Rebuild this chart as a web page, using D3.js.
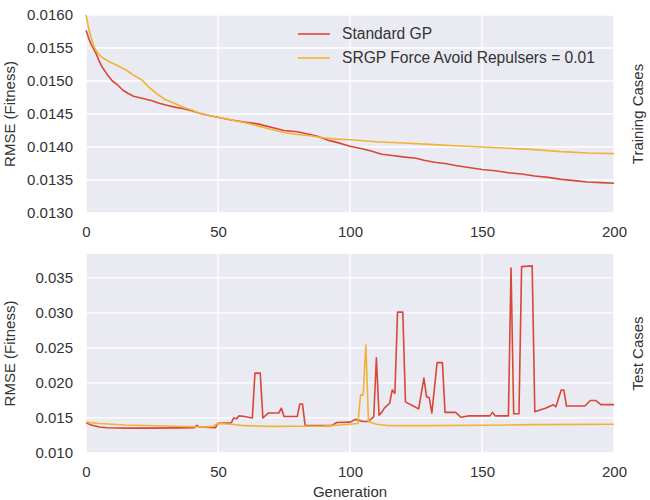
<!DOCTYPE html>
<html>
<head>
<meta charset="utf-8">
<script src="https://cdn.jsdelivr.net/npm/d3@7"></script>
<style>
  body { margin: 0; background: #fff; }
  svg text { font-family: "Liberation Sans", Arial, sans-serif; fill: #333; }
</style>
</head>
<body>
<div id="chart"></div>
<script>
// Training cases (top panel)
const trainGpGen = [0, 1, 2, 3, 4, 5, 6, 8, 10, 12, 14, 16, 18, 20, 22, 25, 28, 31, 34, 37, 40, 43, 46, 50,
    55, 60, 65, 68, 72, 75, 80, 85, 88, 92, 95, 100, 105, 108, 112, 116, 120, 125, 128, 132, 136, 140,
    145, 150, 155, 160, 165, 170, 175, 180, 185, 190, 195, 200];
const trainGp = [0.01577, 0.01565, 0.01555, 0.01548, 0.01540, 0.01530, 0.01522, 0.01510, 0.01500, 0.01494,
    0.01486, 0.01481, 0.01477, 0.01475, 0.01473, 0.01470, 0.01466, 0.01463, 0.01460, 0.01458, 0.01455,
    0.01451, 0.01448, 0.01445, 0.01441, 0.01438, 0.01435, 0.01432, 0.01428, 0.01425, 0.01423, 0.01419,
    0.01416, 0.01410, 0.01407, 0.01401, 0.01397, 0.01394, 0.01389, 0.01387, 0.01385, 0.01383, 0.01380,
    0.01377, 0.01375, 0.01372, 0.01369, 0.01366, 0.01364, 0.01361, 0.01359, 0.01356, 0.01354, 0.01351,
    0.01349, 0.01347, 0.01346, 0.01345];

const trainSrgpGen = [0, 1, 2, 3, 4, 5, 6, 8, 10, 12, 15, 18, 21, 24, 27, 30, 33, 37, 40, 43, 46, 50, 55, 60,
    65, 70, 75, 80, 85, 90, 95, 100, 110, 120, 130, 140, 150, 160, 170, 180, 190, 200];
const trainSrgp = [0.01600, 0.01580, 0.01565, 0.01552, 0.01545, 0.01540, 0.01536, 0.01531, 0.01527, 0.01523,
    0.01517, 0.01509, 0.01502, 0.01490, 0.01480, 0.01472, 0.01467, 0.01460, 0.01456, 0.01451, 0.01448,
    0.01445, 0.01441, 0.01437, 0.01432, 0.01427, 0.01422, 0.01419, 0.01417, 0.01414, 0.01412, 0.01411,
    0.01408, 0.01406, 0.01404, 0.01402, 0.01400, 0.01398, 0.01396, 0.01393, 0.01391, 0.01390];

// Test cases (bottom panel)
const testGpGen = [0, 2, 5, 8, 15, 25, 35, 41, 42, 43, 49, 50, 55, 56, 57, 58, 60, 63, 64, 66, 67, 69, 73, 74,
    75, 80, 81, 82, 83, 93, 95, 100, 102, 105, 107, 109, 110, 111, 112, 113, 115, 116, 117, 118, 120, 121,
    125, 126, 128, 129, 130, 131, 133, 135, 136, 140, 142, 145, 153, 154, 155, 160, 161, 162, 164, 165, 169,
    170, 174, 177, 178, 180, 181, 182, 189, 191, 193, 195, 200];
const testGp = [0.01430, 0.01400, 0.01370, 0.01360, 0.01355, 0.01355, 0.01358, 0.01362, 0.01395, 0.01370,
    0.01360, 0.01425, 0.01430, 0.01500, 0.01490, 0.01530, 0.01520, 0.01500, 0.02140, 0.02140, 0.01500,
    0.01570, 0.01570, 0.01640, 0.01520, 0.01520, 0.01700, 0.01700, 0.01390, 0.01390, 0.01435, 0.01440,
    0.01480, 0.01450, 0.01450, 0.01520, 0.02360, 0.01540, 0.01580, 0.01640, 0.01710, 0.01900, 0.01850,
    0.03010, 0.03010, 0.01730, 0.01650, 0.01630, 0.02070, 0.01800, 0.01790, 0.01570, 0.02290, 0.02290,
    0.01580, 0.01580, 0.01510, 0.01530, 0.01530, 0.01580, 0.01530, 0.01530, 0.03640, 0.01560, 0.01560,
    0.03660, 0.03670, 0.01590, 0.01640, 0.01690, 0.01660, 0.01900, 0.01900, 0.01670, 0.01670, 0.01750,
    0.01750, 0.01690, 0.01690];

const testSrgpGen = [0, 5, 15, 30, 45, 48, 50, 55, 60, 70, 90, 95, 100, 103, 104, 105, 106, 107, 110, 115,
    130, 150, 170, 200];
const testSrgp = [0.01440, 0.01420, 0.01400, 0.01385, 0.01372, 0.01380, 0.01420, 0.01410, 0.01390, 0.01380,
    0.01385, 0.01395, 0.01410, 0.01420, 0.01830, 0.01830, 0.02540, 0.01450, 0.01410, 0.01390, 0.01390,
    0.01395, 0.01405, 0.01410];

const seriesNames = ['Standard GP', 'SRGP Force Avoid Repulsers = 0.01'];
const seriesColors = ['#d9473a', '#f2b233'];

const xTicks = [0, 50, 100, 150, 200];
const trainTicks = [0.0130, 0.0135, 0.0140, 0.0145, 0.0150, 0.0155, 0.0160];
const testTicks = [0.010, 0.015, 0.020, 0.025, 0.030, 0.035];

const width = 650, height = 500;
const svg = d3.select('#chart').append('svg')
    .attr('width', width)
    .attr('height', height);

const left = 86, right = 614;

function drawPanel(opts) {
    const x = d3.scaleLinear().domain([0, 200]).range([left, right]);
    const y = d3.scaleLinear().domain(opts.yDomain).range([opts.bottom, opts.top]);

    const g = svg.append('g');

    g.append('rect')
        .attr('x', left)
        .attr('y', opts.top)
        .attr('width', right - left)
        .attr('height', opts.bottom - opts.top)
        .attr('fill', '#eaeaf2');

    // grid
    g.selectAll('.vgrid')
        .data(xTicks)
        .enter()
        .append('line')
        .attr('x1', d => x(d)).attr('x2', d => x(d))
        .attr('y1', opts.top).attr('y2', opts.bottom)
        .attr('stroke', '#fff')
        .attr('stroke-width', 1.3);

    g.selectAll('.hgrid')
        .data(opts.yTicks)
        .enter()
        .append('line')
        .attr('x1', left).attr('x2', right)
        .attr('y1', d => y(d)).attr('y2', d => y(d))
        .attr('stroke', '#fff')
        .attr('stroke-width', 1.3);

    // axes, text only (no domain lines / tick marks in this style)
    const xAxis = g.append('g')
        .attr('transform', `translate(0,${opts.bottom})`)
        .call(d3.axisBottom(x).tickValues(xTicks).tickSize(0).tickPadding(13));
    const yAxis = g.append('g')
        .attr('transform', `translate(${left},0)`)
        .call(d3.axisLeft(y).tickValues(opts.yTicks).tickSize(0).tickPadding(13)
            .tickFormat(d3.format(opts.fmt)));
    [xAxis, yAxis].forEach(a => {
        a.select('.domain').remove();
        a.selectAll('text')
            .style('font-size', '15px')
            .style('font-family', '"Liberation Sans", Arial, sans-serif')
            .attr('fill', '#333');
    });

    const line = d3.line()
        .x(d => x(d[0]))
        .y(d => y(d[1]));

    opts.series.forEach((s, i) => {
        g.append('path')
            .datum(d3.zip(s.gen, s.val))
            .attr('d', line)
            .attr('fill', 'none')
            .attr('stroke', seriesColors[i])
            .attr('stroke-width', 1.6)
            .attr('stroke-linejoin', 'round');
    });

    const mid = (opts.top + opts.bottom) / 2;
    g.append('text')
        .attr('transform', `translate(15,${mid}) rotate(-90)`)
        .attr('text-anchor', 'middle')
        .style('font-size', '15px')
        .text('RMSE (Fitness)');

    g.append('text')
        .attr('transform', `translate(643,${mid}) rotate(-90)`)
        .attr('text-anchor', 'middle')
        .style('font-size', '15px')
        .text(opts.sideLabel);

    return g;
}

drawPanel({
    top: 15, bottom: 213,
    yDomain: [0.013, 0.016],
    yTicks: trainTicks,
    fmt: '.4f',
    sideLabel: 'Training Cases',
    series: [{ gen: trainGpGen, val: trainGp }, { gen: trainSrgpGen, val: trainSrgp }]
});

drawPanel({
    top: 254, bottom: 453,
    yDomain: [0.010, 0.0384],
    yTicks: testTicks,
    fmt: '.3f',
    sideLabel: 'Test Cases',
    series: [{ gen: testGpGen, val: testGp }, { gen: testSrgpGen, val: testSrgp }]
});

// legend, top panel
const legend = svg.append('g').attr('transform', 'translate(298,34)');
seriesNames.forEach((name, i) => {
    legend.append('line')
        .attr('x1', 0).attr('x2', 32)
        .attr('y1', i * 24).attr('y2', i * 24)
        .attr('stroke', seriesColors[i])
        .attr('stroke-width', 1.6);
    legend.append('text')
        .attr('x', 44)
        .attr('y', i * 24 + 5)
        .style('font-size', '15.6px')
        .text(name);
});

svg.append('text')
    .attr('x', (left + right) / 2)
    .attr('y', 497)
    .attr('text-anchor', 'middle')
    .style('font-size', '15px')
    .text('Generation');
</script>
</body>
</html>
